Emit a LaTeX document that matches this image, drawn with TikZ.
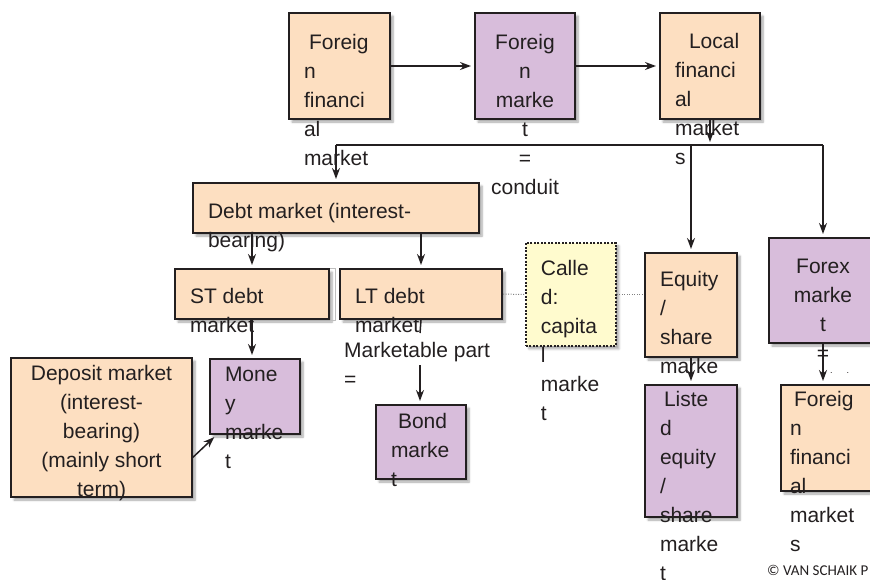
\documentclass[tikz,border=0pt]{standalone}
\usepackage{fontspec}
\setmainfont{Liberation Sans}
\newfontfamily\cpyfont{Carlito}
\usetikzlibrary{arrows.meta,shadows.blur}
\definecolor{peach}{RGB}{253,223,193}
\definecolor{lilac}{RGB}{216,189,219}
\definecolor{cream}{RGB}{255,251,206}
\definecolor{ink}{RGB}{35,31,32}
% text block of fixed size: width, height, first baseline, lines
\newcommand{\mtext}[4]{\parbox[t][#2][t]{#1}{\rule{0pt}{#3}#4}}
\tikzset{
  mbox/.style={draw=ink, line width=2pt, anchor=north west, inner xsep=15pt, inner ysep=0pt,
    text=ink, font=\fontsize{21}{29}\selectfont,
    blur shadow={shadow xshift=3pt, shadow yshift=-3pt, shadow blur steps=6, shadow opacity=35}},
  peachbox/.style={mbox, fill=peach},
  lilacbox/.style={mbox, fill=lilac},
  creambox/.style={mbox, fill=cream, line width=1.8pt, dash pattern=on 2pt off 1.5pt},
  txt/.style={text=ink, font=\fontsize{21}{29}\selectfont, anchor=north west, inner sep=0pt},
  conn/.style={draw=ink, line width=1.5pt},
  arr/.style={conn, -{Stealth[length=11pt,width=8pt]}, shorten >=3pt},
  dots/.style={draw=gray, line width=1pt, dash pattern=on 1pt off 1.5pt}
}
\begin{document}
\begin{tikzpicture}[x=1pt,y=-1pt]
\clip (0,0) rectangle (870,579);
% top row
\node[peachbox] (ffm) at (288,12) {\mtext{71pt}{106pt}{36pt}{\hspace*{5pt}Foreig\\n\\financi\\al\\market}};
\node[lilacbox] (fm) at (474,12) {\mtext{70pt}{106pt}{36pt}{\centering Foreig\\n\\marke\\t\\=\\conduit}};
\node[peachbox] (lfm) at (659,12) {\mtext{70pt}{106pt}{35pt}{\hspace*{14pt}Local\\financi\\al\\market\\s}};
\coordinate (bus) at (709,145);
% debt side
\node[peachbox] (debt) at (192,182) {\mtext{256pt}{50pt}{35pt}{Debt market (interest-\\bearing)}};
\node[peachbox] (st) at (174,268) {\mtext{124pt}{50pt}{34pt}{ST debt\\market}};
\node[peachbox] (lt) at (339,268) {\mtext{132pt}{50pt}{34pt}{LT debt\\market}};
\draw[gray!50, line width=0.8pt] (st.north east) -- ++(5,0) |- (st.south east);
\node[peachbox] (dep) at (10,357) {\mtext{151pt}{139pt}{22pt}{\centering Deposit market\\(interest-\\bearing)\\(mainly short\\term)}};
\node[lilacbox] (money) at (209,358) {\mtext{60pt}{75pt}{22pt}{Mone\\y\\marke\\t}};
\node[txt] (mp) at (344,335) {\mtext{150pt}{50pt}{22pt}{Marketable part\\=}};
\node[lilacbox] (bond) at (375,404) {\mtext{60pt}{74pt}{23pt}{\hspace*{7pt}Bond\\marke\\t}};
% capital and equity
\node[creambox] (cap) at (525,242) {\mtext{60pt}{103pt}{33pt}{Calle\\d:\\capita\\l\\marke\\t}};
\node[peachbox] (eq) at (644,252) {\mtext{62pt}{104pt}{33pt}{Equity\\/\\share\\marke\\t}};
\node[lilacbox] (listed) at (644,384) {\mtext{62pt}{132pt}{21pt}{\hspace*{4pt}Liste\\d\\equity\\/\\share\\marke\\t}};
% forex
\node[lilacbox] (fx) at (768,237) {\mtext{78pt}{105pt}{35pt}{\centering Forex\\marke\\t\\=}};
\node[peachbox, inner xsep=9pt] (ffm2) at (780,384) {\mtext{82pt}{106pt}{21pt}{\hspace*{4pt}Foreig\\n\\financi\\al\\market\\s}};
\node[text=ink, font=\fontsize{9}{9}\selectfont, inner sep=0pt, anchor=base west] (fxdots) at (830,373) {.\hspace{14pt}.};
\node[text=ink, font=\cpyfont\fontsize{15}{15}\selectfont, inner sep=0pt, anchor=base west] (cpy) at (767,575) {© VAN SCHAIK P};
\coordinate (gapA) at (420,333);
\coordinate (gapB) at (420,365);
\path
    (ffm) edge[arr] (fm)
    (fm) edge[arr] (lfm)
    (lfm) edge[arr] (lfm.south |- bus)
    (debt.north |- bus) edge[conn] (fx.north |- bus)
    (debt.north |- bus) edge[arr] (debt)
    (eq.north |- bus) edge[arr] (eq)
    (fx.north |- bus) edge[arr] (fx)
    (debt.south -| st) edge[arr] (st)
    (debt.south -| lt) edge[arr] (lt)
    (st.south) edge[arr] (st.south |- money.north)
    (lt.south) edge[conn] (gapA)
    (gapB) edge[arr] (gapB |- bond.north)
    (dep.-18.6) edge[arr] (money.225)
    (eq) edge[arr] (listed)
    (fx.south) edge[arr] (fx.south |- ffm2.north);
\path
    (lt) edge[dots] (cap)
    (cap.east) edge[dots] (cap.east -| eq.west);
\end{tikzpicture}
\end{document}
